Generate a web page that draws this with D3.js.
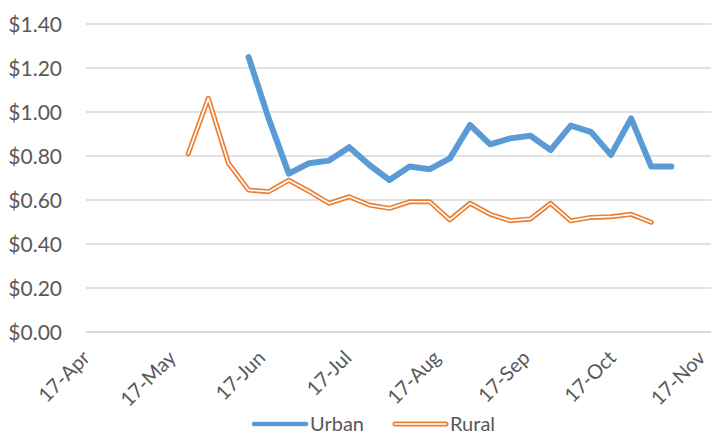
<!DOCTYPE html>
<html>
<head>
<meta charset="utf-8">
<script src="https://cdn.jsdelivr.net/npm/d3@7"></script>
<style>
  body { margin: 0; background: #fff; }
  svg { display: block; font-family: Lato, "Open Sans", sans-serif; }
</style>
</head>
<body>
<div class="chart"></div>
<script>
const weeks = [
  "2017-05-22", "2017-05-29", "2017-06-05", "2017-06-12", "2017-06-19",
  "2017-06-26", "2017-07-03", "2017-07-10", "2017-07-17", "2017-07-24",
  "2017-07-31", "2017-08-07", "2017-08-14", "2017-08-21", "2017-08-28",
  "2017-09-04", "2017-09-11", "2017-09-18", "2017-09-25", "2017-10-02",
  "2017-10-09", "2017-10-16", "2017-10-23", "2017-10-30", "2017-11-06"
];
// null = no value that week
const urban = [
  null, null, null, 1.25, 0.97, 0.72, 0.767, 0.779, 0.84, 0.759,
  0.691, 0.752, 0.74, 0.789, 0.941, 0.853, 0.88, 0.892, 0.827, 0.938,
  0.91, 0.805, 0.971, 0.752, 0.752
];
const rural = [
  0.81, 1.062, 0.767, 0.645, 0.638, 0.69, 0.64, 0.585, 0.615, 0.577,
  0.562, 0.592, 0.592, 0.51, 0.585, 0.535, 0.506, 0.514, 0.585, 0.505,
  0.521, 0.524, 0.535, 0.499, null
];
const xTicks = [
  "2017-04-17", "2017-05-17", "2017-06-17", "2017-07-17",
  "2017-08-17", "2017-09-17", "2017-10-17", "2017-11-17"
];
const yTicks = [0, 0.2, 0.4, 0.6, 0.8, 1.0, 1.2, 1.4];

const width = 711;
const height = 436;
const parse = d3.timeParse("%Y-%m-%d");
const dates = weeks.map(parse);
const tickDates = xTicks.map(parse);

const svg = d3
  .select(".chart")
  .append("svg")
  .attr("width", width)
  .attr("height", height);

const x = d3
  .scaleTime()
  .domain([tickDates[0], tickDates[tickDates.length - 1]])
  .range([87.5, 703]);

const y = d3.scaleLinear().domain([0, 1.4]).range([332, 24]);

// gridlines
svg
  .append("g")
  .selectAll("line")
  .data(yTicks)
  .enter()
  .append("line")
  .attr("x1", 86)
  .attr("x2", width)
  .attr("y1", d => y(d))
  .attr("y2", d => y(d))
  .attr("stroke", "#d9d9d9")
  .attr("stroke-width", d => (d === 0 ? 2 : 1.5));

const yAxis = d3
  .axisLeft(y)
  .tickValues(yTicks)
  .tickSize(0)
  .tickPadding(0)
  .tickFormat(d3.format("$.2f"));
const yG = svg
  .append("g")
  .attr("transform", "translate(62, 0)")
  .call(yAxis);
yG.select(".domain").remove();
yG.selectAll("text")
  .attr("dy", "0.36em")
  .style("font-family", "Lato, sans-serif")
  .style("font-size", "21px")
  .attr("fill", "#595959");

const xAxis = d3
  .axisBottom(x)
  .tickValues(tickDates)
  .tickSize(0)
  .tickFormat(d3.timeFormat("%d-%b"));
const xG = svg
  .append("g")
  .attr("transform", "translate(0, 332)")
  .call(xAxis);
xG.select(".domain").remove();
xG.selectAll("text")
  .attr("x", 0)
  .attr("y", 0)
  .attr("dy", "0.36em")
  .attr("text-anchor", "end")
  .attr("transform", "translate(-2, 22) rotate(-45)")
  .style("font-family", "Lato, sans-serif")
  .style("font-size", "20px")
  .attr("fill", "#595959");

const line = values =>
  d3
    .line()
    .defined((d, i) => values[i] !== null)
    .x((d, i) => x(dates[i]))
    .y((d, i) => y(values[i]))(values);

// rural: double line (orange outline, white core)
svg
  .append("path")
  .attr("d", line(rural))
  .attr("fill", "none")
  .attr("stroke", "#ed7d31")
  .attr("stroke-width", 5)
  .attr("stroke-linejoin", "round")
  .attr("stroke-linecap", "round");
svg
  .append("path")
  .attr("d", line(rural))
  .attr("fill", "none")
  .attr("stroke", "#fff")
  .attr("stroke-width", 1.7)
  .attr("stroke-linejoin", "round")
  .attr("stroke-linecap", "round");

svg
  .append("path")
  .attr("d", line(urban))
  .attr("fill", "none")
  .attr("stroke", "#5b9bd5")
  .attr("stroke-width", 6)
  .attr("stroke-linejoin", "round")
  .attr("stroke-linecap", "round");

// legend
const legend = svg.append("g").attr("transform", "translate(0, 424)");
legend
  .append("line")
  .attr("x1", 254)
  .attr("x2", 306)
  .attr("stroke", "#5b9bd5")
  .attr("stroke-width", 4.5)
  .attr("stroke-linecap", "round");
legend
  .append("text")
  .attr("x", 310)
  .attr("dy", "0.34em")
  .style("font-size", "20px")
  .attr("fill", "#595959")
  .text("Urban");
legend
  .append("line")
  .attr("x1", 395)
  .attr("x2", 446)
  .attr("stroke", "#ed7d31")
  .attr("stroke-width", 5)
  .attr("stroke-linecap", "round");
legend
  .append("line")
  .attr("x1", 395)
  .attr("x2", 446)
  .attr("stroke", "#fff")
  .attr("stroke-width", 1.7)
  .attr("stroke-linecap", "round");
legend
  .append("text")
  .attr("x", 450)
  .attr("dy", "0.34em")
  .style("font-size", "20px")
  .attr("fill", "#595959")
  .text("Rural");
</script>
</body>
</html>
